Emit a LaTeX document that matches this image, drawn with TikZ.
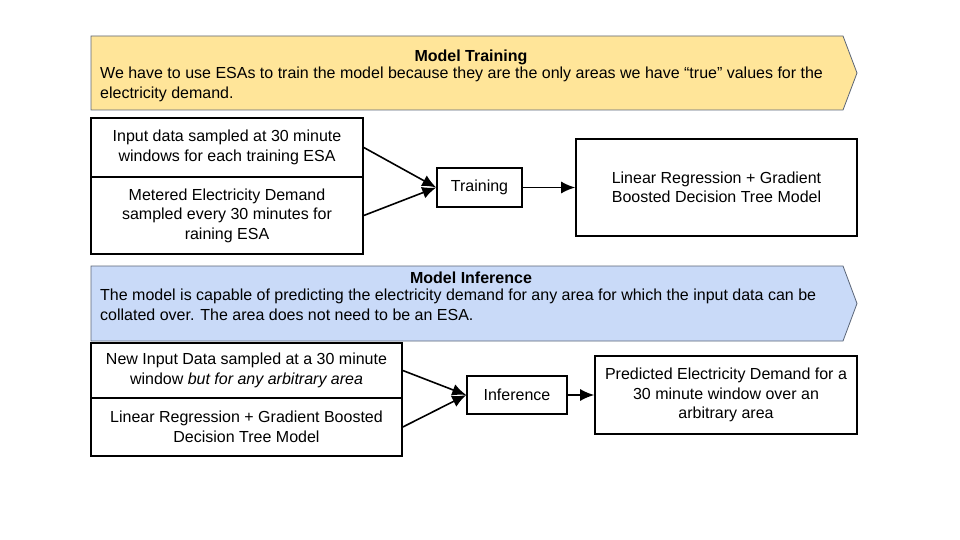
\documentclass[tikz,border=0pt]{standalone}
\usepackage{fontspec}
\setmainfont{Liberation Sans}
\usetikzlibrary{arrows.meta}
\usetikzlibrary{math}
\definecolor{trainfill}{HTML}{FFE599}
\definecolor{inferfill}{HTML}{C9DAF8}
\definecolor{banneredge}{HTML}{5B6577}
\tikzstyle{banner} = [draw=banneredge, line width=0.8pt]
\tikzstyle{box} = [draw=black, line width=1.6pt, fill=white, align=center, inner sep=0pt, font=\fontsize{16}{19.5}\selectfont]
\tikzstyle{note} = [inner sep=0pt, align=left, font=\fontsize{16}{19.5}\selectfont]
\tikzstyle{arrow} = [-{Latex[length=14pt, width=12pt]}, line width=1.6pt]

\begin{document}
\begin{tikzpicture}[auto, x=1pt, y=-1pt]

  \tikzmath{\xl = 91; \xr = 843; \xt = 857;}

  \useasboundingbox (0,0) rectangle (960,540);

  % training banner
  \draw[banner, fill=trainfill] (\xl,36) -- (\xr,36) -- (\xt,73) -- (\xr,110) -- (\xl,110) -- cycle;
  \node[note, font=\fontsize{16}{19}\selectfont\bfseries] (traintitle) at (471,57) {Model Training};
  \node[note, anchor=north west] (trainnote) at (100,67) {We have to use ESAs to train the model because they are the only areas we have “true” values for the\\electricity demand.};

  \node[box, minimum width=272, minimum height=59] (in1) at (227,147.5) {Input data sampled at 30 minute\\windows for each training ESA};
  \node[box, minimum width=272, minimum height=77] (in2) at (227,215.5) {Metered Electricity Demand\\sampled every 30 minutes for\\raining ESA};
  \node[box, minimum width=85, minimum height=39] (train) at (479.5,187.5) {Training};
  \node[box, minimum width=281, minimum height=97] (model) at (716.5,187.5) {Linear Regression + Gradient\\Boosted Decision Tree Model};

  \draw[arrow] (in1.east) -- (train.west);
  \draw[arrow] (in2.east) -- (train.west);
  \draw[arrow] (train.east) -- (model.west);

  % inference banner
  \draw[banner, fill=inferfill] (\xl,266) -- (\xr,266) -- (\xt,303.5) -- (\xr,341) -- (\xl,341) -- cycle;
  \node[note, font=\fontsize{16}{19}\selectfont\bfseries] (infertitle) at (471,278) {Model Inference};
  \node[note, anchor=north west] (infernote) at (100,289) {The model is capable of predicting the electricity demand for any area for which the input data can be\\collated over. The area does not need to be an ESA.};

  \node[box, minimum width=311, minimum height=55] (newin) at (246.5,370.5) {New Input Data sampled at a 30 minute\\window \textit{but for any arbitrary area}};
  \node[box, minimum width=311, minimum height=58] (lrmodel) at (246.5,427) {Linear Regression + Gradient Boosted\\Decision Tree Model};
  \node[box, minimum width=100, minimum height=38] (infer) at (517,395) {Inference};
  \node[box, minimum width=262, minimum height=78] (pred) at (726,395) {Predicted Electricity Demand for a\\30 minute window over an\\arbitrary area};

  \draw[arrow] (newin.east) -- (infer.west);
  \draw[arrow] (lrmodel.east) -- (infer.west);
  \draw[arrow] (infer.east) -- (pred.west);

\end{tikzpicture}
\end{document}
